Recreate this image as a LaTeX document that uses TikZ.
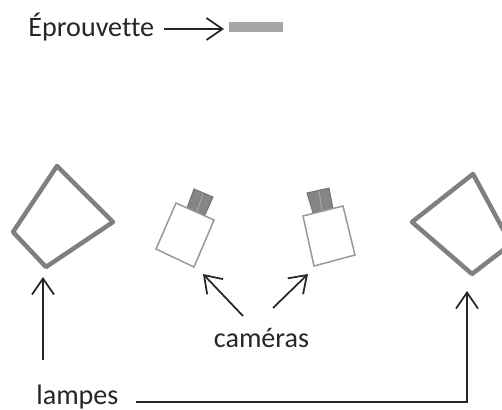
\documentclass[tikz,border=0pt]{standalone}
\usepackage{fontspec}
\setmainfont[Ligatures=NoCommon]{Carlito}
\usetikzlibrary{arrows.meta}
\tikzset{
    label/.style={inner sep=0pt, font=\fontsize{16pt}{18pt}\selectfont, text=black!85},
    lamp/.style={draw=black!50, line width=0.9mm, line join=round},
    body/.style={draw=black!40, line width=0.3mm, fill=white},
    head/.style={draw=black!55, line width=0.2mm, fill=black!48},
    pointer/.style={->, draw=black!85, line width=0.35mm}
}
\begin{document}
\begin{tikzpicture}[x=0.2mm, y=-0.2mm, >={Straight Barb[length=3.2mm,width=4.4mm]}]
            \useasboundingbox (0, 0) rectangle (502, 409);
            \clip (0, 0) rectangle (502, 409);

            \node[label, anchor=base west] (eprouvette) at (28, 36) {Éprouvette};
            \node[fill=black!35, minimum width=10.8mm, minimum height=2mm, inner sep=0pt] (piece) at (256, 27) {};
            \coordinate (eprouvettestart) at (164, 29);
            \coordinate (eprouvetteend) at (224, 29);
            \draw[pointer] (eprouvettestart) -- (eprouvetteend);

            % lampes
            \draw[lamp] (57, 166) -- (113, 222) -- (46, 267) -- (13, 232) -- cycle;
            \draw[lamp] (473, 174) -- (511, 244) -- (472, 274) -- (412, 222) -- cycle;

            % cameras
            \draw[head] (194, 189) -- (213, 197) -- (205, 215) -- (187, 208) -- cycle;
            \draw[draw=black!35, line width=0.2mm] (203, 193) -- (197, 212);
            \draw[body] (176, 203) -- (214, 220) -- (194, 267) -- (156, 249) -- cycle;

            \draw[head] (307, 193) -- (329, 188) -- (333, 209) -- (313, 213) -- cycle;
            \draw[draw=black!35, line width=0.2mm] (319, 191) -- (322, 211);
            \draw[body] (303, 216) -- (343, 206) -- (355, 255) -- (314, 266) -- cycle;

            \node[label, anchor=base] (cameras) at (261.5, 347) {caméras};
            \node[label, anchor=base west] (lampes) at (36, 404) {lampes};

            \coordinate (camleftstart) at (243, 316);
            \coordinate (camleftend) at (203, 274);
            \coordinate (camrightstart) at (273, 308);
            \coordinate (camrightend) at (308, 274);
            \draw[pointer] (camleftstart) -- (camleftend);
            \draw[pointer] (camrightstart) -- (camrightend);

            \coordinate (lampleftstart) at (43, 360);
            \coordinate (lampleftend) at (43, 277);
            \draw[pointer] (lampleftstart) -- (lampleftend);

            \coordinate (lamprightstart) at (136, 402);
            \coordinate (lampcorner) at (467, 402);
            \coordinate (lamprightend) at (467, 291);
            \draw[pointer] (lamprightstart) -- (lampcorner) -- (lamprightend);
        \end{tikzpicture}
\end{document}
